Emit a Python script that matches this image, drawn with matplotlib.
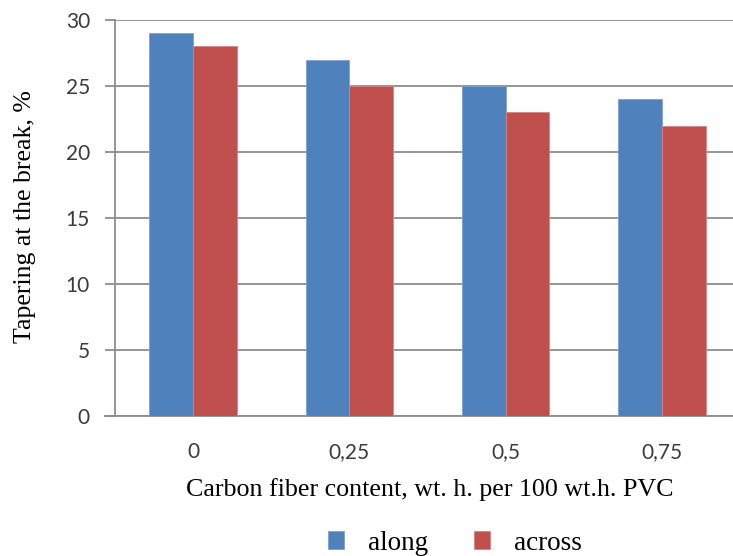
import numpy as np
import matplotlib
matplotlib.use("Agg")
import matplotlib.pyplot as plt

# data
categories = ["0", "0,25", "0,5", "0,75"]
along = [29, 27, 25, 24]
across = [28, 25, 23, 22]
yticks = [0, 5, 10, 15, 20, 25, 30]

blue = "#4F81BD"
red = "#C0504D"
grid_col = "#8C8C8C"
tick_col = "#3A3A3A"

fig = plt.figure(figsize=(7.33, 5.56), dpi=100)
ax = fig.add_axes([115 / 733, 1 - 416 / 556, 625 / 733, 396 / 556])

x = np.arange(len(categories))
w = 0.28
ax.bar(x - w / 2, along, w, color=blue, edgecolor="#7FA1CF", linewidth=0.6, label="along", zorder=3)
ax.bar(x + w / 2, across, w, color=red, edgecolor="#D98583", linewidth=0.6, label="across", zorder=3)

ax.set_xlim(-0.5, 3.5)
ax.set_ylim(0, 30)
ax.set_yticks(yticks)
ax.set_xticks(x)
ax.set_xticklabels(categories)

ax.yaxis.grid(True, color=grid_col, linewidth=1.3, zorder=0)
for s in ["top", "right"]:
    ax.spines[s].set_visible(False)
for s in ["left", "bottom"]:
    ax.spines[s].set_color(grid_col)
    ax.spines[s].set_linewidth(1.3)
ax.spines["bottom"].set_bounds(-0.5 - 10 / 156, 3.5)

ax.tick_params(axis="y", length=7, width=1.3, color=grid_col, pad=11,
               labelsize=15, labelcolor=tick_col)
ax.tick_params(axis="x", length=0, pad=19, labelsize=15, labelcolor=tick_col)
for lbl in ax.get_xticklabels() + ax.get_yticklabels():
    lbl.set_family("Lato")

fig.text(25 / 733, 1 - 217 / 556, "Tapering at the break, %", family="Liberation Serif",
         fontsize=18.5, rotation=90, ha="center", va="center")
fig.text(430 / 733, 1 - 490 / 556, "Carbon fiber content, wt. h. per 100 wt.h. PVC",
         family="Liberation Serif", fontsize=18.7, ha="center", va="center")

leg = fig.legend(loc="center", bbox_to_anchor=(455 / 733, 1 - 543 / 556), ncol=2, frameon=False,
                 prop={"family": "Liberation Serif", "size": 19.5}, handlelength=0.6, handleheight=0.6,
                 columnspacing=1.67, handletextpad=0.9, borderpad=0, borderaxespad=0)

fig.savefig("out.png", dpi=100)
